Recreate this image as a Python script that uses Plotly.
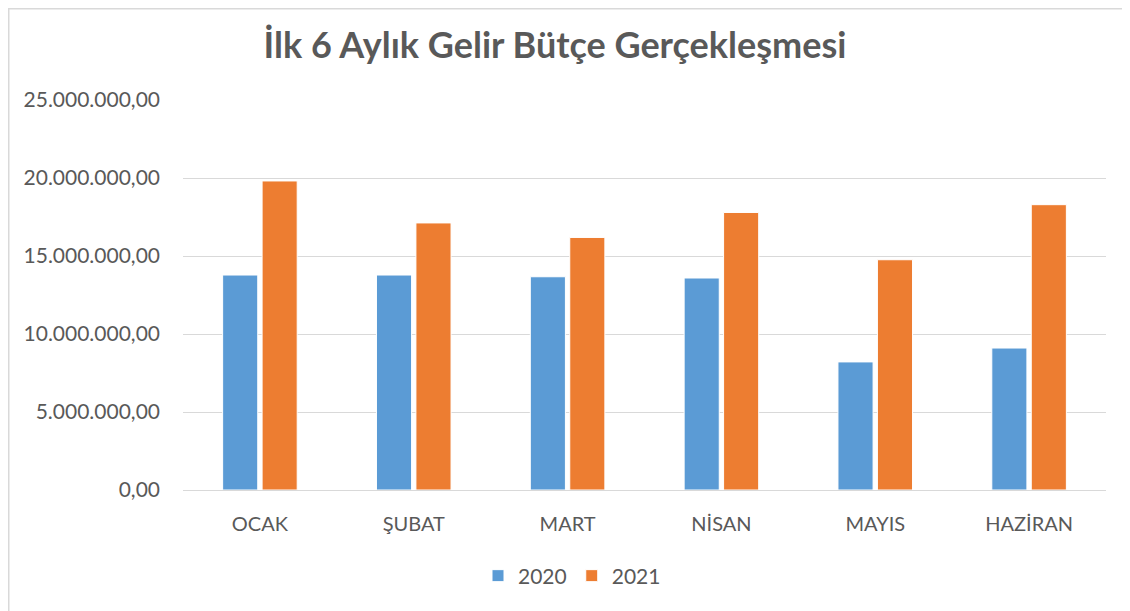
import plotly.graph_objects as go

categories = ["OCAK", "ŞUBAT", "MART", "NİSAN", "MAYIS", "HAZİRAN"]
values_2020 = [13780000, 13780000, 13670000, 13590000, 8210000, 9100000]
values_2021 = [19810000, 17120000, 16190000, 17790000, 14760000, 18290000]
tick_vals = [0, 5000000, 10000000, 15000000, 20000000, 25000000]
tick_text = ["0,00", "5.000.000,00", "10.000.000,00", "15.000.000,00", "20.000.000,00", "25.000.000,00"]

FONT = "Lato"
GRAY = "#595959"

fig = go.Figure()
fig.add_trace(go.Bar(name="2020", x=categories, y=values_2020,
                     marker=dict(color="#5b9bd5", line=dict(color="white", width=1))))
fig.add_trace(go.Bar(name="2021", x=categories, y=values_2021,
                     marker=dict(color="#ed7d31", line=dict(color="white", width=1))))

# page has an 8px body margin; work in screen coordinates and convert
OFF = 8
W, H = 1130 - OFF, 611 - OFF
# screen positions of plot area
SL, SR, ST, SB = 183, 1106, 100, 490

L = SL - OFF
R = W - (SR - OFF)
T = ST - OFF
B = H - (SB - OFF)
pw = W - L - R
ph = H - T - B

def px_x(p):
    return (p - OFF - L) / pw

def px_y(p):
    return (H - B - (p - OFF)) / ph

fig.update_layout(
    width=W, height=H,
    margin=dict(l=L, r=R, t=T, b=B),
    paper_bgcolor="white", plot_bgcolor="white",
    barmode="group", bargap=0.487, bargroupgap=0.11,
    title=dict(text="<b>İlk 6 Aylık Gelir Bütçe Gerçekleşmesi</b>",
               x=(555 - OFF) / W, xanchor="center", y=1 - (45 - OFF) / H, yanchor="middle",
               font=dict(family=FONT, size=36, color=GRAY)),
    font=dict(family=FONT, color=GRAY),
    legend=dict(orientation="h", x=px_x(572), xanchor="center",
                y=px_y(576), yanchor="middle",
                font=dict(family=FONT, size=21, color=GRAY),
                itemwidth=30, traceorder="normal"),
    showlegend=True,
    xaxis=dict(showgrid=False, showline=True, linecolor="#d9d9d9", linewidth=1,
               ticks="", tickfont=dict(family=FONT, size=20, color=GRAY),
               ticklabelstandoff=16),
    yaxis=dict(range=[0, 25000000], tickvals=tick_vals, ticktext=tick_text,
               showgrid=True, gridcolor="#d9d9d9", gridwidth=1,
               zeroline=False, showline=False, ticks="",
               tickfont=dict(family=FONT, size=21, color=GRAY),
               ticklabelstandoff=22),
    shapes=[
        dict(type="line", xref="paper", yref="paper",
             x0=px_x(OFF), x1=px_x(1130), y0=px_y(OFF + 0.75), y1=px_y(OFF + 0.75),
             line=dict(color="#d9d9d9", width=1.5)),
        dict(type="line", xref="paper", yref="paper",
             x0=px_x(OFF + 0.75), x1=px_x(OFF + 0.75), y0=px_y(OFF), y1=px_y(611),
             line=dict(color="#d9d9d9", width=1.5)),
    ],
)

fig.write_html("out.html")
